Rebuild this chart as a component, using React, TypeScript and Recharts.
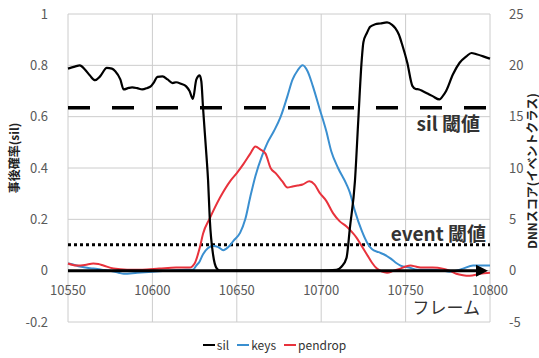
import { LineChart, Line, XAxis, YAxis, CartesianGrid, ReferenceLine, Legend } from 'recharts'

// [frame, value] pairs
const silPts = [
  [10550, 0.787], [10554, 0.795], [10557, 0.8], [10560, 0.784], [10563, 0.76], [10566, 0.742],
  [10569, 0.757], [10573, 0.79], [10576, 0.787], [10578, 0.777], [10581, 0.745], [10583, 0.706],
  [10586, 0.712], [10588, 0.714], [10591, 0.711], [10594, 0.706], [10597, 0.712], [10599, 0.718],
  [10601, 0.735], [10603, 0.755], [10606, 0.757], [10609, 0.745], [10612, 0.731], [10614, 0.734],
  [10617, 0.728], [10620, 0.718], [10622, 0.7], [10624, 0.669], [10626, 0.744], [10628, 0.761],
  [10629, 0.737], [10630, 0.634], [10632, 0.45], [10633, 0.35], [10634, 0.2], [10636, 0.06],
  [10638, 0.01], [10640, 0], [10700, 0], [10709, 0.003], [10712, 0.015], [10715, 0.05],
  [10717, 0.167], [10720, 0.35], [10722, 0.59], [10724, 0.82], [10725, 0.89], [10727, 0.925],
  [10729, 0.95], [10732, 0.96], [10735, 0.963], [10739, 0.967], [10742, 0.958], [10744, 0.944],
  [10746, 0.92], [10748, 0.88], [10751, 0.81], [10754, 0.72], [10756, 0.708], [10758, 0.706],
  [10760, 0.7], [10763, 0.69], [10766, 0.68], [10770, 0.667], [10772, 0.68], [10774, 0.7],
  [10778, 0.764], [10782, 0.81], [10786, 0.835], [10789, 0.848], [10792, 0.843], [10796, 0.835],
  [10800, 0.826],
]

const keysPts = [
  [10550, 0.7], [10553, 0.6], [10557, 0.4], [10565, 0.2], [10570, 0.1], [10575, 0], [10580, -0.2],
  [10583, -0.3], [10591, -0.2], [10600, -0.1], [10610, 0], [10620, 0.1], [10624, 0.1], [10626, 0.5],
  [10628, 0.9], [10630, 1.6], [10633, 2.2], [10636, 2.4], [10639, 2.3], [10642, 2.0], [10645, 2.3],
  [10648, 2.9], [10652, 3.7], [10655, 5.0], [10658, 7.2], [10661, 9.2], [10665, 11.2], [10668, 12.4],
  [10672, 13.6], [10676, 15.0], [10680, 17.0], [10683, 18.6], [10686, 19.5], [10689, 20.0],
  [10692, 19.4], [10695, 18.0], [10699, 15.8], [10703, 13.6], [10706, 11.6], [10710, 10.0],
  [10715, 8.4], [10717, 7.6], [10720, 5.8], [10724, 3.9], [10727, 2.8], [10730, 2.1], [10734, 1.8],
  [10737, 1.6], [10741, 1.2], [10744, 0.8], [10747, 0.5], [10752, 0.3], [10757, 0.1], [10766, 0.1],
  [10772, 0], [10776, -0.1], [10780, 0], [10784, 0.2], [10790, 0.5], [10795, 0.5], [10800, 0.5],
]

const pendropPts = [
  [10550, 0.7], [10555, 0.5], [10560, 0.55], [10565, 0.7], [10568, 0.65], [10571, 0.5], [10577, 0.2],
  [10585, 0.1], [10594, 0.1], [10604, 0.2], [10614, 0.3], [10622, 0.3], [10625, 0.7], [10628, 2.2],
  [10630, 3.6], [10634, 5.1], [10640, 7.1], [10646, 8.7], [10650, 9.5], [10654, 10.4], [10658, 11.4],
  [10661, 12.1], [10664, 11.8], [10667, 11.4], [10670, 10.0], [10673, 9.5], [10677, 8.7], [10680, 8.1],
  [10683, 8.2], [10686, 8.3], [10689, 8.4], [10693, 8.7], [10696, 8.4], [10699, 7.6], [10703, 6.8],
  [10707, 5.6], [10711, 4.8], [10715, 4.3], [10718, 3.8], [10721, 3.2], [10724, 2.4], [10727, 1.6],
  [10730, 0.8], [10733, 0.2], [10736, -0.1], [10739, -0.2], [10743, 0], [10747, 0.2], [10750, 0.4],
  [10753, 0.5], [10756, 0.4], [10760, 0.3], [10766, 0.3], [10772, 0.2], [10776, 0], [10780, -0.3],
  [10784, -0.45], [10788, -0.5], [10794, -0.3], [10800, -0.2],
]

const frameTicks = [10550, 10600, 10650, 10700, 10750, 10800]
const probTicks = [-0.2, 0, 0.2, 0.4, 0.6, 0.8, 1]
const scoreTicks = [-5, 0, 5, 10, 15, 20, 25]

const silThreshold = 0.635
const eventThreshold = 0.101

const toRows = (pts: number[][]) => pts.map(([f, v]) => ({ f, v }))

const FONT = "'Noto Sans CJK JP', 'Noto Sans', sans-serif"
const TICK = { fontSize: 13, fill: '#595959' }

const series = [
  { name: 'sil', color: '#000000' },
  { name: 'keys', color: '#3a8fd0' },
  { name: 'pendrop', color: '#e8323c' },
]

function FrameTick({ x, y, payload }: any) {
  return (
    <text x={x} y={y - 32} dy="0.35em" textAnchor="middle" fontSize={13} fill="#595959">
      {payload.value}
    </text>
  )
}

function ArrowAxis({ x1, y1, x2 }: any) {
  return (
    <g>
      <line x1={x1} y1={y1} x2={x2 - 10} y2={y1} stroke="#000" strokeWidth={3} />
      <polygon points={`${x2 - 2},${y1} ${x2 - 14},${y1 - 6} ${x2 - 14},${y1 + 6}`} fill="#000" />
    </g>
  )
}

function LegendBox() {
  return (
    <div style={{ display: 'flex', justifyContent: 'center', gap: 8, paddingLeft: 10, fontSize: 12, color: '#333', fontFamily: FONT }}>
      {series.map(s => (
        <span key={s.name} style={{ display: 'flex', alignItems: 'center' }}>
          <svg width={12} height={10} style={{ marginRight: 2 }}>
            <line x1={0} y1={5} x2={12} y2={5} stroke={s.color} strokeWidth={2} />
          </svg>
          {s.name}
        </span>
      ))}
    </div>
  )
}

export default function App() {
  return (
    <div style={{ position: 'absolute', left: 0, top: 0 }}>
      <LineChart
        width={539}
        height={358}
        margin={{ top: 14, right: 0, left: 0, bottom: 0 }}
        style={{ fontFamily: FONT }}
      >
        <CartesianGrid
          yAxisId="l"
          horizontal={{ stroke: '#a6a6a6' }}
          vertical={{ stroke: '#d9d9d9' }}
        />
        <XAxis
          type="number"
          dataKey="f"
          domain={[10550, 10800]}
          ticks={frameTicks}
          axisLine={false}
          tickLine={false}
          tickSize={0}
          tickMargin={0}
          height={14}
          tick={<FrameTick />}
        />
        <YAxis
          yAxisId="l"
          domain={[-0.2, 1]}
          ticks={probTicks}
          width={68}
          axisLine={false}
          tickLine={false}
          tickMargin={14}
          tick={TICK}
          label={({ viewBox }: any) => (
            <text
              transform={`translate(${viewBox.x + 13}, ${viewBox.y + viewBox.height / 2 - 10}) rotate(-90)`}
              textAnchor="middle"
              dominantBaseline="central"
              fontSize={12}
              fontWeight="bold"
              fill="#222"
            >
              事後確率(sil)
            </text>
          )}
        />
        <YAxis
          yAxisId="r"
          orientation="right"
          domain={[-5, 25]}
          ticks={scoreTicks}
          width={49}
          axisLine={false}
          tickLine={false}
          tickMargin={13}
          tick={TICK}
          label={({ viewBox }: any) => (
            <text
              transform={`translate(${viewBox.x + 41}, ${viewBox.y + viewBox.height / 2 + 3}) rotate(-90)`}
              textAnchor="middle"
              dominantBaseline="central"
              fontSize={12}
              fontWeight="bold"
              fill="#222"
            >
              DNNスコア(イベントクラス)
            </text>
          )}
        />
        <Legend verticalAlign="bottom" height={22} content={<LegendBox />} />
        <ReferenceLine
          yAxisId="l"
          y={silThreshold}
          stroke="#000"
          strokeWidth={3.5}
          strokeDasharray="22 22"
          label={{ value: 'sil 閾値', position: 'insideTopRight', offset: 10, fontSize: 19, fontWeight: 'bold', fill: '#333' }}
        />
        <ReferenceLine
          yAxisId="l"
          y={eventThreshold}
          stroke="#000"
          strokeWidth={3}
          strokeDasharray="3 3"
          label={{ value: 'event 閾値', position: 'insideBottomRight', offset: 4, fontSize: 19, fontWeight: 'bold', fill: '#333' }}
        />
        <Line yAxisId="r" data={toRows(keysPts)} dataKey="v" name="keys" type="monotone" stroke="#3a8fd0" strokeWidth={2} dot={false} isAnimationActive={false} />
        <Line yAxisId="r" data={toRows(pendropPts)} dataKey="v" name="pendrop" type="monotone" stroke="#e8323c" strokeWidth={2} dot={false} isAnimationActive={false} />
        <Line yAxisId="l" data={toRows(silPts)} dataKey="v" name="sil" type="monotone" stroke="#000" strokeWidth={2.2} dot={false} isAnimationActive={false} />
        <ReferenceLine
          yAxisId="l"
          y={0}
          shape={<ArrowAxis />}
          label={({ viewBox }: any) => (
            <text x={viewBox.x + viewBox.width - 10} y={viewBox.y + 43} textAnchor="end" fontSize={17} fill="#333">
              フレーム
            </text>
          )}
        />
      </LineChart>
    </div>
  )
}
